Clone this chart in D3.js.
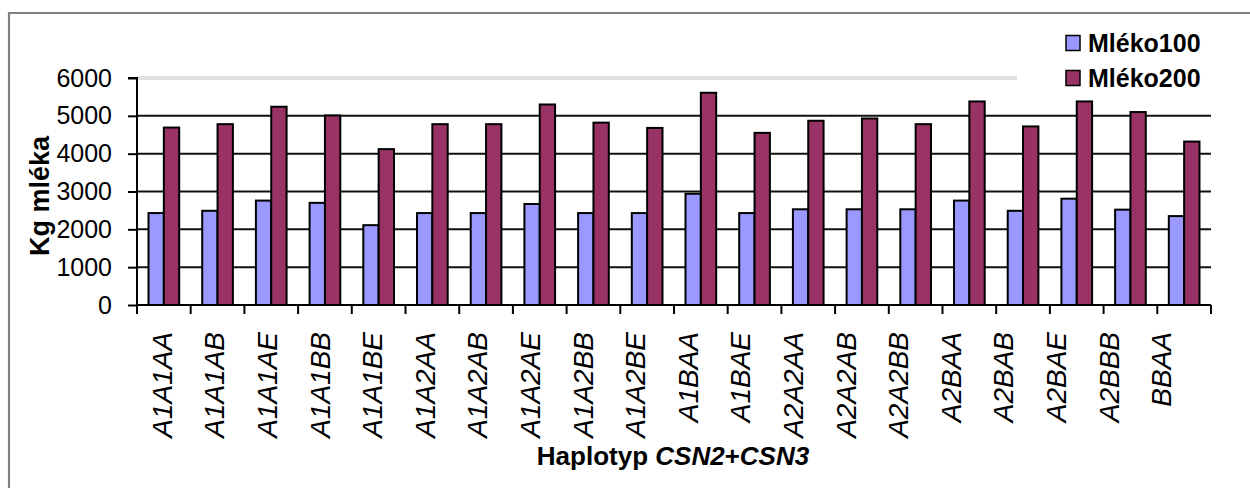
<!DOCTYPE html>
<html>
<head>
<meta charset="utf-8">
<script src="https://cdn.jsdelivr.net/npm/d3@7"></script>
<style>
  html, body { margin: 0; padding: 0; background: #fff; }
  svg { display: block; font-family: Arial, "Liberation Sans", sans-serif; }
</style>
</head>
<body>
<svg id="chart" width="1250" height="488"></svg>
<script>
// Milk yield (kg) per CSN2+CSN3 haplotype, two lactation windows
const categories = ["A1A1AA", "A1A1AB", "A1A1AE", "A1A1BB", "A1A1BE", "A1A2AA", "A1A2AB",
  "A1A2AE", "A1A2BB", "A1A2BE", "A1BAA", "A1BAE", "A2A2AA", "A2A2AB", "A2A2BB",
  "A2BAA", "A2BAB", "A2BAE", "A2BBB", "BBAA"];
const mleko100 = [2430, 2490, 2760, 2700, 2110, 2430, 2430, 2670, 2430, 2430, 2940, 2430,
  2530, 2530, 2530, 2760, 2490, 2810, 2520, 2350];
const mleko200 = [4690, 4780, 5240, 5010, 4120, 4780, 4780, 5300, 4820, 4680, 5610, 4550,
  4870, 4930, 4780, 5380, 4720, 5380, 5100, 4320];
const seriesNames = ["Mléko100", "Mléko200"];
const yTicks = [0, 1000, 2000, 3000, 4000, 5000, 6000];

const colors = { "Mléko100": "#9999FF", "Mléko200": "#993366" };

const svg = d3.select("#chart");

// Outer chart frame (top and left edges fall inside the canvas)
svg.append("path")
  .attr("d", "M9,488 V13 H1250")
  .attr("fill", "none").attr("stroke", "#808080").attr("stroke-width", 2.2);

const plot = { left: 137, right: 1211, top: 78, bottom: 305 };

const y = d3.scaleLinear().domain([0, 6000]).range([plot.bottom, plot.top]);

const gap = 1.5 / 3.5;
const x = d3.scaleBand().domain(categories)
  .range([plot.left, plot.right])
  .paddingInner(gap).paddingOuter(gap / 2);
const xs = d3.scaleBand().domain(seriesNames).range([0, x.bandwidth()]);

// Category labels run on a slightly tighter track than the bars
const xLabel = d3.scaleBand().domain(categories).range([135.5, 1187.5]);

// Gridlines
svg.append("g").selectAll("line")
  .data(yTicks.filter(t => t > 0 && t < 6000))
  .join("line")
  .attr("x1", plot.left).attr("x2", plot.right)
  .attr("y1", d => y(d)).attr("y2", d => y(d))
  .attr("stroke", "#111").attr("stroke-width", 2);

// Top edge of the plot area, a light double rule
[-1, 1].forEach(o => {
  svg.append("line")
    .attr("x1", plot.left).attr("x2", 1017)
    .attr("y1", y(6000) + o).attr("y2", y(6000) + o)
    .attr("stroke", "#c4c4c4").attr("stroke-width", 1);
});

// Bars
const rows = categories.map((c, i) => ({ cat: c, values: [
  { key: "Mléko100", value: mleko100[i] },
  { key: "Mléko200", value: mleko200[i] }
]}));

svg.append("g").selectAll("g")
  .data(rows)
  .join("g")
  .attr("transform", d => `translate(${x(d.cat)},0)`)
  .selectAll("rect")
  .data(d => d.values)
  .join("rect")
  .attr("x", d => xs(d.key))
  .attr("width", xs.bandwidth())
  .attr("y", d => y(d.value))
  .attr("height", d => y(0) - y(d.value))
  .attr("fill", d => colors[d.key])
  .attr("stroke", "#000").attr("stroke-width", 2);

// Y axis
const yAxis = svg.append("g").attr("transform", `translate(${plot.left},0)`)
  .call(d3.axisLeft(y).tickValues(yTicks).tickSize(9).tickPadding(16).tickFormat(d3.format("d")));
yAxis.select(".domain").attr("stroke", "#000").attr("stroke-width", 2)
  .attr("d", `M-9,${y(6000)}H0V${y(0)}`);
yAxis.selectAll(".tick line").attr("stroke", "#000").attr("stroke-width", 2);
yAxis.selectAll(".tick text").attr("font-size", 25).attr("fill", "#000")
  .attr("font-family", "Arial, 'Liberation Sans', sans-serif");

// X axis line with ticks at category boundaries
svg.append("line")
  .attr("x1", plot.left).attr("x2", plot.right)
  .attr("y1", plot.bottom).attr("y2", plot.bottom)
  .attr("stroke", "#000").attr("stroke-width", 2);
const bounds = d3.range(categories.length + 1).map(i => plot.left + i * x.step());
svg.append("g").selectAll("line")
  .data(bounds)
  .join("line")
  .attr("x1", d => d).attr("x2", d => d)
  .attr("y1", plot.bottom).attr("y2", plot.bottom + 9)
  .attr("stroke", "#000").attr("stroke-width", 2);

// Category labels, rotated
svg.append("g").selectAll("text")
  .data(categories)
  .join("text")
  .attr("transform", d => `translate(${xLabel(d) + xLabel.bandwidth() / 2},332) rotate(-90)`)
  .attr("text-anchor", "end")
  .attr("dy", "0.36em")
  .attr("font-size", 28)
  .attr("font-style", "italic")
  .attr("fill", "#000")
  .text(d => d);

// Axis titles
svg.append("text")
  .attr("transform", "translate(49,196) rotate(-90)")
  .attr("text-anchor", "middle")
  .attr("font-size", 27).attr("font-weight", "bold")
  .text("Kg mléka");

const xt = svg.append("text")
  .attr("x", 673).attr("y", 465)
  .attr("text-anchor", "middle")
  .attr("font-size", 26).attr("font-weight", "bold");
xt.append("tspan").text("Haplotyp ");
xt.append("tspan").attr("font-style", "italic").text("CSN2");
xt.append("tspan").text("+");
xt.append("tspan").attr("font-style", "italic").text("CSN3");

// Legend
const legend = svg.append("g").selectAll("g")
  .data(seriesNames)
  .join("g")
  .attr("transform", (d, i) => `translate(1066,${43 + i * 35})`);
legend.append("rect")
  .attr("x", 0).attr("y", -7.5).attr("width", 14).attr("height", 15)
  .attr("fill", d => colors[d]).attr("stroke", "#000").attr("stroke-width", 1.5);
legend.append("text")
  .attr("x", 22).attr("dy", "0.36em")
  .attr("font-size", 25).attr("font-weight", "bold")
  .text(d => d);
</script>
</body>
</html>
